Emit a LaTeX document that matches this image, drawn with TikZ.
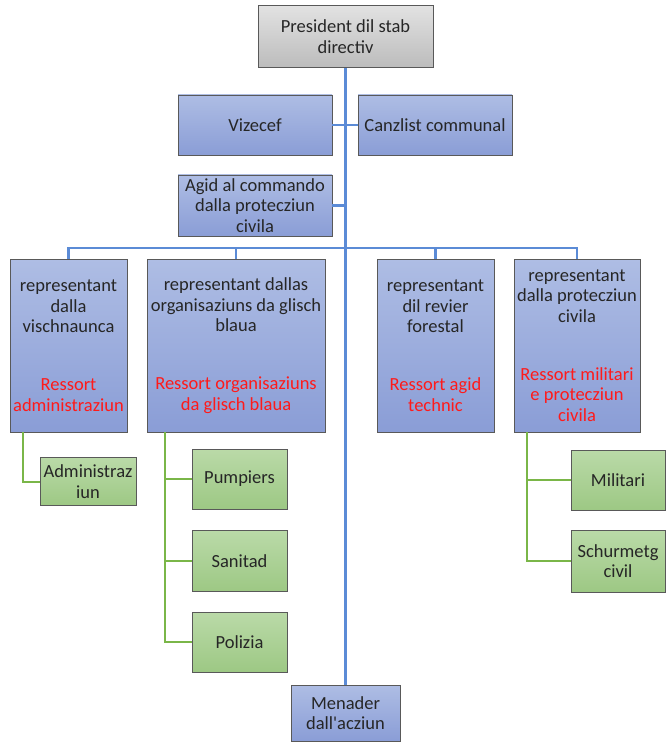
\documentclass[tikz,border=0pt]{standalone}
\usepackage{fontspec}
\setmainfont{Carlito}
\usepackage{xcolor}

\definecolor{boxblue1}{HTML}{AEBDE4}
\definecolor{boxblue2}{HTML}{8A9DD6}
\definecolor{boxgreen1}{HTML}{BADAA8}
\definecolor{boxgreen2}{HTML}{9DC884}
\definecolor{boxgray1}{HTML}{E2E2E2}
\definecolor{boxgray2}{HTML}{BCBCBC}
\definecolor{lineblue}{HTML}{5B8BD6}
\definecolor{linegreen}{HTML}{7AB648}
\definecolor{boxedge}{HTML}{595959}
\definecolor{ressort}{HTML}{FF1A1A}

\begin{document}
\begin{tikzpicture}[x=1pt,y=-1pt,
    font=\fontsize{18.5}{20.7}\selectfont,
    every node/.style={text=black!85, align=center, inner sep=0pt},
    bluebox/.style={draw=boxedge, line width=0.8pt, top color=boxblue1, bottom color=boxblue2},
    greenbox/.style={draw=boxedge, line width=0.8pt, top color=boxgreen1, bottom color=boxgreen2},
    graybox/.style={draw=boxedge, line width=0.8pt, top color=boxgray1, bottom color=boxgray2},
    blueline/.style={draw=lineblue, line width=2.4pt},
    greenline/.style={draw=linegreen, line width=2pt}]

\useasboundingbox (0,0) rectangle (666,743);

% top of the staff
\node [graybox, minimum width=175, minimum height=62] (praesident) at (345.5,36.5) {President dil stab\\directiv};
\node [bluebox, minimum width=154, minimum height=60] (vizecef) at (255,125) {Vizecef};
\node [bluebox, minimum width=154, minimum height=60] (canzlist) at (435,125) {Canzlist communal};
\node [bluebox, minimum width=154, minimum height=61] (agid) at (255,205.5) {Agid al commando\\dalla protecziun\\civila};

% representants
\node [bluebox, minimum width=117, minimum height=173] (vischnaunca) at (68.5,345.5)
    {representant\\dalla\\vischnaunca\\[37pt]\color{ressort}Ressort\\\color{ressort}administraziun};
\node [bluebox, minimum width=178, minimum height=173] (glischblaua) at (236,345.5)
    {representant dallas\\organisaziuns da glisch\\blaua\\[37pt]\color{ressort}Ressort organisaziuns\\\color{ressort}da glisch blaua};
\node [bluebox, minimum width=117, minimum height=173] (revier) at (435.5,345.5)
    {representant\\dil revier\\forestal\\[37pt]\color{ressort}Ressort agid\\\color{ressort}technic};
\node [bluebox, minimum width=126, minimum height=173] (proteczi) at (577,345.5)
    {representant\\dalla protecziun\\civila\\[37pt]\color{ressort}Ressort militari\\\color{ressort}e protecziun\\\color{ressort}civila};

% ressorts
\node [greenbox, minimum width=96, minimum height=48] (admin) at (88,481.5) {Administraz\\iun};
\node [greenbox, minimum width=95, minimum height=60] (pumpiers) at (239.5,479) {Pumpiers};
\node [greenbox, minimum width=95, minimum height=61] (sanitad) at (239.5,561) {Sanitad};
\node [greenbox, minimum width=95, minimum height=60] (polizia) at (239.5,642) {Polizia};
\node [greenbox, minimum width=94, minimum height=60] (militari) at (618,480) {Militari};
\node [greenbox, minimum width=94, minimum height=62] (schurmetg) at (618,561) {Schurmetg\\civil};

\node [bluebox, minimum width=109, minimum height=56] (menader) at (345.5,713) {Menader\\dall\textquotesingle acziun};

% blue lines
\coordinate (bus) at (345.5,248);
\draw [blueline] (praesident.south) -- (menader.north);
\draw [blueline] (vizecef.east) -- (canzlist.west);
\draw [blueline] (agid.east) -- (agid.east -| bus);
\draw [blueline] (vischnaunca.north) |- (bus) -| (proteczi.north);
\draw [blueline] (glischblaua.north) -- (glischblaua.north |- bus);
\draw [blueline] (revier.north) -- (revier.north |- bus);

% green lines
\coordinate (adminstem) at ([xshift=13]vischnaunca.south west);
\coordinate (glischstem) at ([xshift=18]glischblaua.south west);
\coordinate (protstem) at ([xshift=13]proteczi.south west);
\draw [greenline] (adminstem) |- (admin.west);
\draw [greenline] (glischstem) |- (polizia.west);
\foreach \n in {pumpiers,sanitad}
    \draw [greenline] (\n.west) -- (\n.west -| glischstem);
\draw [greenline] (protstem) |- (schurmetg.west);
\draw [greenline] (militari.west) -- (militari.west -| protstem);

\end{tikzpicture}
\end{document}
